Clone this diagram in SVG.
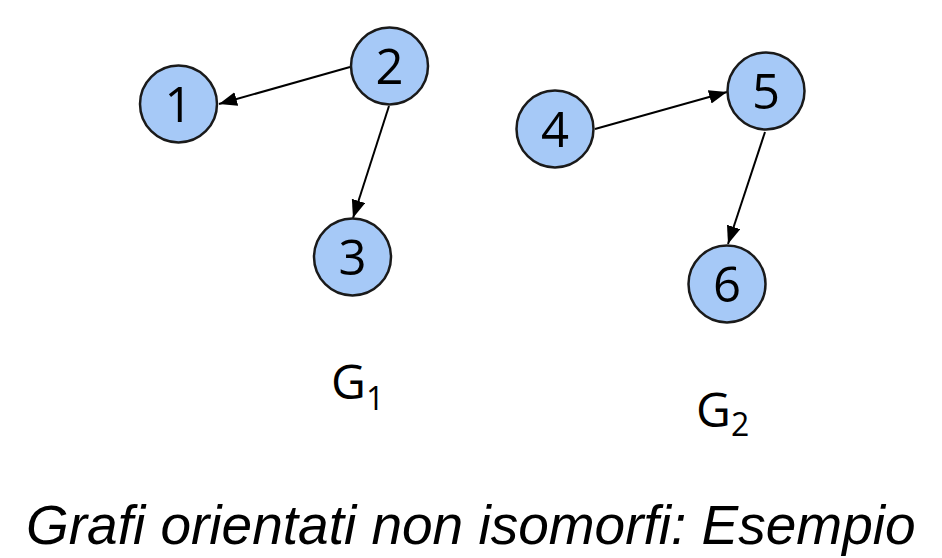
<svg xmlns="http://www.w3.org/2000/svg" width="942" height="558" viewBox="0 0 942 558">
<style>
.node circle{fill:#a6c9f7;stroke:#1a1a1a;stroke-width:2.5}
.node text{font-family:"Open Sans","DejaVu Sans",sans-serif;font-size:49px;fill:#000;text-anchor:middle}
.edge{stroke:#000;stroke-width:2;fill:none;marker-end:url(#arr)}
.glabel{font-family:"Open Sans","DejaVu Sans",sans-serif;font-size:48px;fill:#000}
.title{font-family:"Liberation Sans",Arial,sans-serif;font-style:italic;font-size:55px;fill:#000}
</style>
<defs>
<marker id="arr" markerUnits="userSpaceOnUse" markerWidth="19" markerHeight="15" refX="18" refY="7" orient="auto">
<path d="M0,0 L18,7 L0,14 z" fill="#000"/>
</marker>
</defs>
<rect width="942" height="558" fill="#fff"/>
<g id="connectors">
<line class="edge" x1="350" y1="67" x2="219" y2="104"/>
<line class="edge" x1="389" y1="106" x2="353" y2="218"/>
<line class="edge" x1="595" y1="129" x2="727" y2="92"/>
<line class="edge" x1="765" y1="132" x2="728" y2="244"/>
</g>
<g id="node1" class="node"><circle cx="178.5" cy="104" r="38.5"/><text x="178.5" y="121.5">1</text></g>
<g id="node2" class="node"><circle cx="389.5" cy="66" r="38.5"/><text x="389.5" y="84">2</text></g>
<g id="node3" class="node"><circle cx="352.5" cy="257" r="38.5"/><text x="352.5" y="275">3</text></g>
<g id="node4" class="node"><circle cx="555" cy="129" r="38.5"/><text x="555" y="147">4</text></g>
<g id="node5" class="node"><circle cx="766" cy="91" r="38.5"/><text x="766" y="109">5</text></g>
<g id="node6" class="node"><circle cx="727" cy="284" r="38.5"/><text x="727" y="302">6</text></g>
<text class="glabel" x="331" y="399">G<tspan font-size="32" dy="11">1</tspan></text>
<text class="glabel" x="696" y="427">G<tspan font-size="32" dy="9">2</tspan></text>
<text class="title" x="26" y="544">Grafi orientati non isomorfi: Esempio</text>
</svg>
